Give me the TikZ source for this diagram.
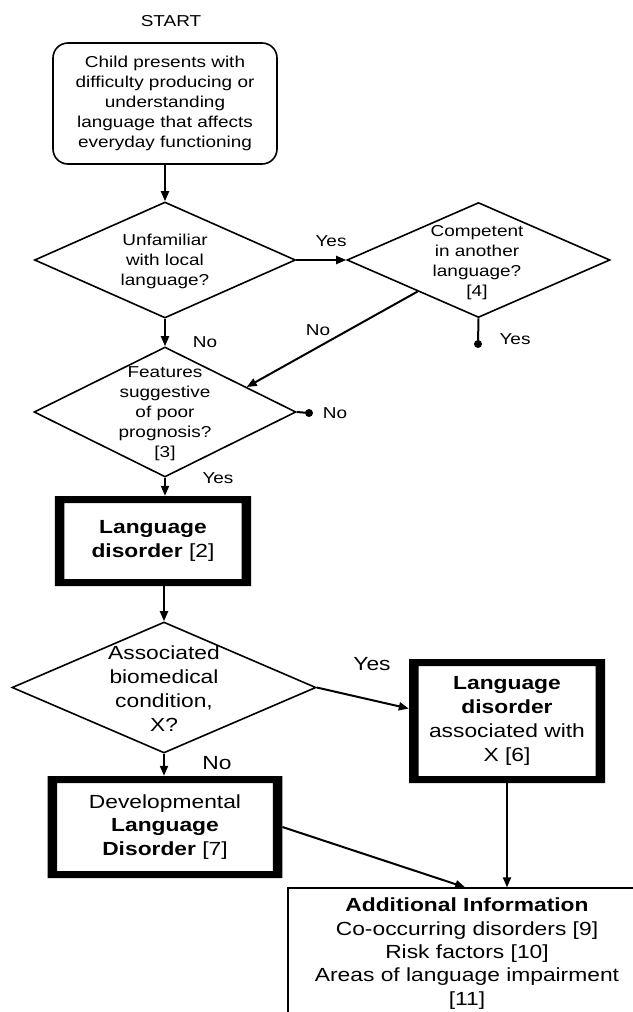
\documentclass[tikz,border=0pt]{standalone}
\usepackage{fontspec}
\setmainfont{Liberation Sans}[FakeStretch=1.2]
\usetikzlibrary{arrows.meta,shapes.geometric,calc}
\newcommand\txtA{\fontsize{15.8bp}{20bp}\selectfont}
\newcommand\txtB{\fontsize{19bp}{23.8bp}\selectfont}
\newcommand\txtC{\fontsize{19bp}{23.3bp}\selectfont}
\begin{document}
\begin{tikzpicture}[x=1bp,y=-1bp,
  dia/.style={draw, line width=1.6bp, shape=diamond, inner sep=0pt},
  qtxtA/.style={align=center, inner sep=0pt, font=\txtA},
  qtxtB/.style={align=center, inner sep=0pt, font=\txtB},
  startbox/.style={draw, line width=1.6bp, rounded corners=15bp, inner sep=0pt, align=center, font=\txtA},
  thickbox/.style={inner sep=0pt, align=center, font=\txtB,
    path picture={\fill[black, even odd rule]
      (path picture bounding box.south west) rectangle (path picture bounding box.north east)
      ([xshift=9.5bp,yshift=7bp]path picture bounding box.south west) rectangle
      ([xshift=-9.5bp,yshift=-7bp]path picture bounding box.north east);}},
  infobox/.style={draw, line width=1.3bp, inner sep=0pt, align=center, font=\txtC},
  lblA/.style={inner sep=0pt, font=\txtA},
  lblB/.style={inner sep=0pt, font=\txtB},
  conn/.style={line width=2bp, -{Triangle[length=10bp,width=8bp]}},
  plain/.style={line width=2bp},
  dotc/.style={fill=black}
]
\useasboundingbox (0,0) rectangle (633,1012);
\clip (0,0) rectangle (633,1012);

% nodes
\node[lblA] (start) at (171,21) {START};
\node[startbox, minimum width=224bp, minimum height=121bp] (b1) at (165,103.5)
  {Child presents with\\difficulty producing or\\understanding\\language that affects\\everyday functioning};

\node[dia, minimum width=261bp, minimum height=116bp] (d1) at (165,260) {};
\node[qtxtA] (d1t) at (165,261) {Unfamiliar\\with local\\language?};

\node[dia, minimum width=263bp, minimum height=115bp] (d2) at (478.5,260) {};
\node[qtxtA] (d2t) at (477,262.5) {Competent\\in another\\language?\\{[4]}};

\node[dia, minimum width=262bp, minimum height=130bp] (d3) at (165,412) {};
\node[qtxtA] (d3t) at (165,413.5) {Features\\suggestive\\of poor\\prognosis?\\{[3]}};

\node[thickbox, minimum width=196bp, minimum height=90bp] (ld) at (153,541)
  {\textbf{Language}\\\textbf{disorder} [2]};

\node[dia, minimum width=304bp, minimum height=131bp] (d4) at (164,687.5) {};
\node[qtxtB] (d4t) at (164,688.5) {Associated\\biomedical\\condition,\\X?};

\node[thickbox, minimum width=196bp, minimum height=124bp] (ldx) at (507,721)
  {\textbf{Language}\\\textbf{disorder}\\associated with\\X [6]};

\node[thickbox, minimum width=234.5bp, minimum height=102bp] (dld) at (165,827)
  {Developmental\\\textbf{Language}\\\textbf{Disorder} [7]};

\node[infobox, minimum width=358bp, minimum height=131bp] (add) at (467,953.5)
  {\textbf{Additional Information}\\Co-occurring disorders [9]\\Risk factors [10]\\Areas of language impairment\\{[11]}};

% coordinates
\coordinate (dot2) at (478,344);
\coordinate (dot3) at (309,413);

% connectors
\draw[conn] (b1.south) -- (d1.north);
\draw[conn] (d1.east) -- (d2.west);
\draw[plain] (d2.south) -- (dot2);
\fill[dotc] (dot2) circle (4bp);
\draw[conn] ($(d2.west)!0.54!(d2.south)$) -- ($(d3.north)!0.62!(d3.east)$);
\draw[conn] (d1.south) -- (d3.north);
\draw[plain] (d3.east) -- (dot3);
\fill[dotc] (dot3) circle (4bp);
\draw[conn] (d3.south) -- (d3.south |- ld.north);
\draw[conn] (ld.south -| d4.north) -- (d4.north);
\draw[conn] (d4.east) -- ($(ldx.north west)!0.4!(ldx.south west)$);
\draw[conn] (d4.south) -- (d4.south |- dld.north);
\draw[conn] (ldx.south) -- (ldx.south |- add.north);
\draw[conn] (dld.east) -- ($(add.north west)!0.495!(add.north east)$);

% labels
\node[lblA] (y1) at (331,241) {Yes};
\node[lblA] (n1) at (318,330) {No};
\node[lblA] (y2) at (515,339) {Yes};
\node[lblA] (n2) at (205,342) {No};
\node[lblA] (n3) at (335,413) {No};
\node[lblA] (y3) at (218,478) {Yes};
\node[lblB] (y4) at (372,664) {Yes};
\node[lblB] (n4) at (217,763) {No};
\end{tikzpicture}
\end{document}
